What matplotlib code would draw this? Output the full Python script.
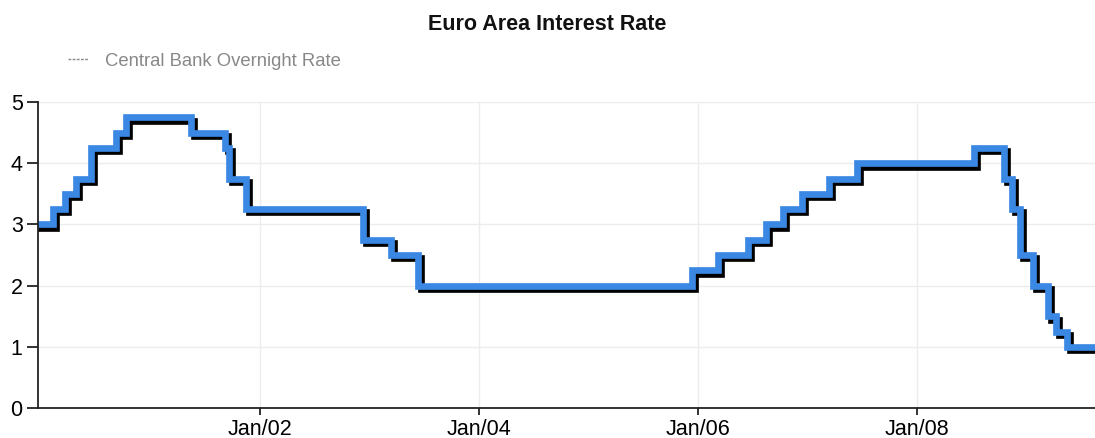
import pandas as pd
import matplotlib.pyplot as plt
import matplotlib.patheffects as pe
from matplotlib.lines import Line2D

plt.rcParams['font.family'] = ['Liberation Sans', 'DejaVu Sans']

# ECB rate changes (date of change, new level)
change_dates = ['1999-11-10', '2000-02-09', '2000-03-22', '2000-04-28', '2000-06-15',
                '2000-09-06', '2000-10-11', '2001-05-15', '2001-09-05', '2001-09-19',
                '2001-11-14', '2002-12-11', '2003-03-12', '2003-06-11', '2005-12-12',
                '2006-03-08', '2006-06-15', '2006-08-15', '2006-10-11', '2006-12-13',
                '2007-03-14', '2007-06-13', '2008-07-09', '2008-10-15', '2008-11-12',
                '2008-12-10', '2009-01-21', '2009-03-11', '2009-04-08', '2009-05-13',
                '2009-09-30']
rates = [3.00, 3.25, 3.50, 3.75, 4.25,
         4.50, 4.75, 4.50, 4.25, 3.75,
         3.25, 2.75, 2.50, 2.00, 2.25,
         2.50, 2.75, 3.00, 3.25, 3.50,
         3.75, 4.00, 4.25, 3.75, 3.25,
         2.50, 2.00, 1.50, 1.25, 1.00,
         1.00]
tick_dates = ['2002-01-01', '2004-01-01', '2006-01-01', '2008-01-01']
tick_labels = ['Jan/02', 'Jan/04', 'Jan/06', 'Jan/08']

df = pd.DataFrame({'date': pd.to_datetime(change_dates), 'rate': rates})

fig = plt.figure(figsize=(10.95, 4.38), dpi=100)
ax = fig.add_axes([0.0347, 0.0685, 0.9653, 0.6985])

ax.step(df['date'], df['rate'], where='post', color='#3a88e4', lw=4.8,
        solid_capstyle='butt', solid_joinstyle='miter',
        path_effects=[pe.SimpleLineShadow(offset=(2.2, -2.4), shadow_color='black', alpha=1.0),
                      pe.Normal()])

ax.set_xlim(pd.Timestamp('1999-12-22'), pd.Timestamp('2009-08-16'))
ax.set_ylim(0, 5)
ax.set_yticks([0, 1, 2, 3, 4, 5])
ax.set_xticks(pd.to_datetime(tick_dates))
ax.set_xticklabels(tick_labels)

ax.grid(True, color='#ececec', lw=1)
ax.set_axisbelow(True)
for s in ['top', 'right']:
    ax.spines[s].set_visible(False)
for s in ['left', 'bottom']:
    ax.spines[s].set_color('#222222')
    ax.spines[s].set_linewidth(1.3)
ax.tick_params(axis='y', length=8, width=1.3, labelsize=15.5, pad=3, color='#222222')
ax.tick_params(axis='x', length=5, width=1.3, labelsize=15.5, pad=3, color='#222222')

fig.text(0.5, 0.945, 'Euro Area Interest Rate', ha='center', va='center',
         fontsize=15.5, fontweight='bold', color='#111111')

proxy = Line2D([], [], color='#888888', lw=1, linestyle=(0, (2, 1)))
fig.legend([proxy], ['Central Bank Overnight Rate'], loc='center left',
           bbox_to_anchor=(0.047, 0.86), frameon=False, fontsize=13.3,
           labelcolor='#888888', handlelength=1.1, handletextpad=0.9)

fig.savefig('out.png', dpi=100)
